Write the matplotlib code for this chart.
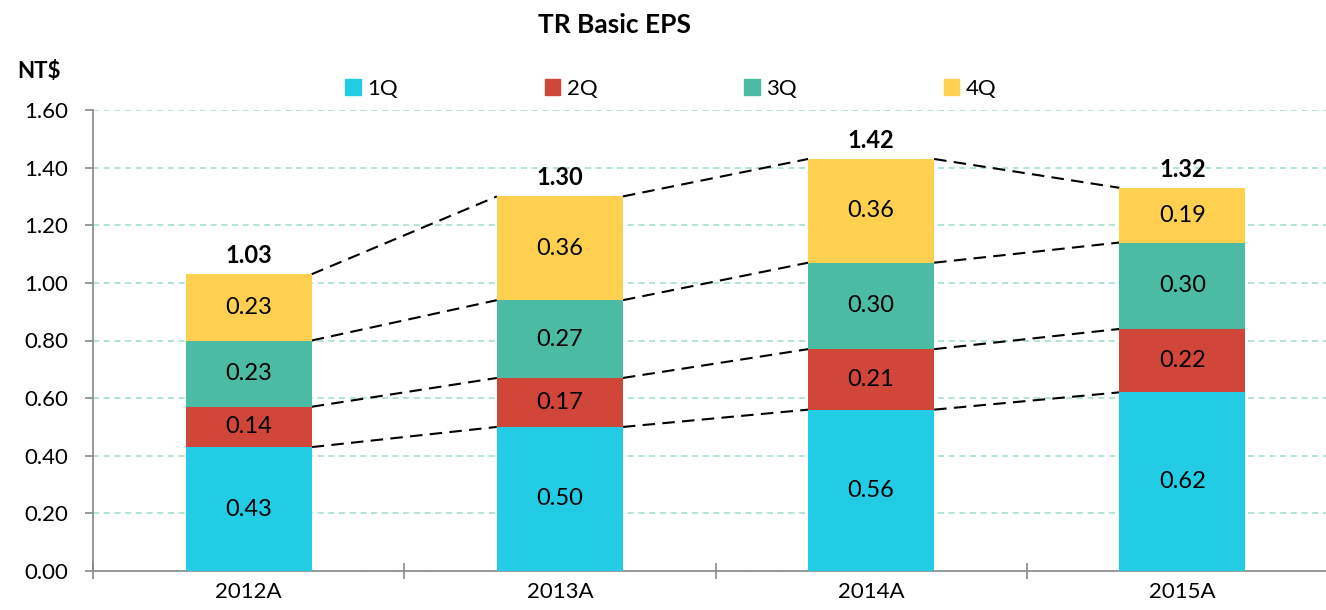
import matplotlib.pyplot as plt
import numpy as np
from matplotlib.patches import Patch

years = ["2012A", "2013A", "2014A", "2015A"]
quarters = ["1Q", "2Q", "3Q", "4Q"]
q1 = [0.43, 0.50, 0.56, 0.62]
q2 = [0.14, 0.17, 0.21, 0.22]
q3 = [0.23, 0.27, 0.30, 0.30]
q4 = [0.23, 0.36, 0.36, 0.19]
totals = [1.03, 1.30, 1.42, 1.32]
colors = ["#22CCE5", "#D04739", "#4BBBA3", "#FFD050"]


def main():
    plt.rcParams['font.family'] = ['Lato', 'DejaVu Sans']
    fig = plt.figure(figsize=(13.26, 6.10), dpi=100)
    ax = fig.add_axes([93 / 1326, 1 - 571 / 610, (1338 - 93) / 1326, (571 - 110) / 610])

    x = np.arange(len(years))
    width = 0.405
    series = [q1, q2, q3, q4]
    bottom = np.zeros(len(years))
    tops = []
    for vals, col in zip(series, colors):
        vals = np.array(vals)
        ax.bar(x, vals, width, bottom=bottom, color=col, zorder=3)
        for xi, b, v in zip(x, bottom, vals):
            ax.text(xi, b + v / 2, f"{v:.2f}", ha='center', va='center',
                    fontsize=17, zorder=4)
        bottom = bottom + vals
        tops.append(bottom.copy())

    # dashed connectors between bar tops
    for level in tops:
        for i in range(len(years) - 1):
            ax.plot([x[i] + width / 2, x[i + 1] - width / 2],
                    [level[i], level[i + 1]], color='black', ls=(0, (6, 3.5)),
                    lw=1.5, zorder=2)

    for xi, b, t in zip(x, bottom, totals):
        ax.text(xi, b + 0.025, f"{t:.2f}", ha='center', va='bottom',
                fontsize=17, fontweight='bold', zorder=4)

    ax.set_xlim(-0.5, len(years) - 0.5)
    ax.set_ylim(0, 1.6)
    ax.set_yticks(np.arange(0, 1.61, 0.2))
    ax.set_yticklabels([f"{v:.2f}" for v in np.arange(0, 1.61, 0.2)], fontsize=16)
    ax.set_xticks(x)
    ax.set_xticklabels(years, fontsize=16)
    ax.set_xticks(np.arange(-0.5, len(years), 1), minor=True)
    ax.tick_params(axis='x', which='major', length=0, pad=8)
    ax.tick_params(axis='x', which='minor', direction='inout', length=12,
                   color='#888888', width=1.2)
    ax.tick_params(axis='y', direction='out', length=6, color='#888888',
                   width=1.2, pad=12)
    ax.yaxis.grid(True, color='#9EDCCB', ls=(0, (4, 3)), lw=1.1, zorder=0)
    for s in ['top', 'right']:
        ax.spines[s].set_visible(False)
    for s in ['left', 'bottom']:
        ax.spines[s].set_color('#888888')
        ax.spines[s].set_linewidth(1.2)

    handles = [Patch(color=c, label=q) for c, q in zip(colors, quarters)]
    fig.legend(handles=handles, loc='center', bbox_to_anchor=(0.506, 1 - 89 / 610),
               ncol=4, frameon=False, fontsize=16, handlelength=0.7,
               handleheight=0.7, handletextpad=0.3, columnspacing=6.6)

    fig.text(614 / 1326, 1 - 25 / 610, "TR Basic EPS", ha='center', va='center',
             fontsize=19, fontweight='bold')
    fig.text(17 / 1326, 1 - 72 / 610, "NT$", ha='left', va='center',
             fontsize=16, fontweight='bold')

    fig.savefig("out.png", dpi=100)


if __name__ == "__main__":
    main()
